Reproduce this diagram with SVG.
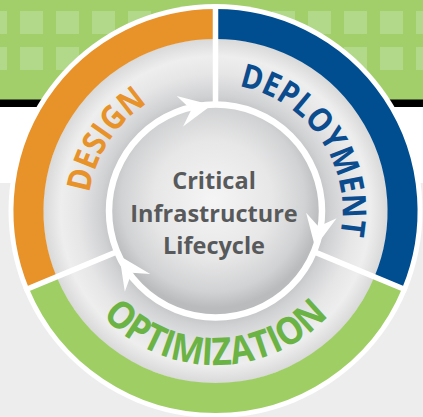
<svg xmlns="http://www.w3.org/2000/svg" xmlns:xlink="http://www.w3.org/1999/xlink" width="423" height="417" viewBox="0 0 423 417">
<style>
.seg{fill:none;stroke-width:30;stroke-linecap:butt}
.div{stroke:#ffffff;stroke-width:5.5;stroke-linecap:butt}
.lbl{font-family:"Open Sans","Noto Sans","Liberation Sans",sans-serif;font-weight:700;text-anchor:middle}
.ctr{font-family:"Open Sans","Noto Sans","Liberation Sans",sans-serif;font-weight:700;font-size:23.5px;fill:#58595b;text-anchor:middle}
</style>
<defs>
<pattern id="sq" x="20" y="11" width="36" height="36" patternUnits="userSpaceOnUse">
<rect x="0" y="0" width="23" height="23" fill="#b2d889"/>
</pattern>
<radialGradient id="ringG" cx="215.5" cy="211" r="172" gradientUnits="userSpaceOnUse">
<stop offset="0.6" stop-color="#bebfc1"/>
<stop offset="0.67" stop-color="#d0d1d3"/>
<stop offset="0.8" stop-color="#e6e6e7"/>
<stop offset="0.9" stop-color="#eeeeee"/>
<stop offset="1" stop-color="#d9d9da"/>
</radialGradient>
<radialGradient id="discG" cx="213" cy="200" r="108" gradientUnits="userSpaceOnUse">
<stop offset="0" stop-color="#f5f5f5"/>
<stop offset="0.55" stop-color="#e7e7e8"/>
<stop offset="0.85" stop-color="#d1d2d3"/>
<stop offset="1" stop-color="#babbbd"/>
</radialGradient>
<path id="arrow" d="M0,0 L-33,-15 L-21,1 L-32,16 Z" fill="#ffffff"/>
<path id="pDesign" d="M96.8,259 A129,129 0 0 1 211,83.1"/>
<path id="pDeploy" d="M217.2,84 A127,127 0 0 1 334.2,256"/>
<path id="pOpt" d="M82.1,288 A154,154 0 0 0 348.9,288"/>
</defs>

<g id="background">
<rect x="0" y="0" width="423" height="417" fill="#ededed"/>
<rect x="0" y="0" width="423" height="100" fill="#a2cf6a"/>
<rect x="0" y="0" width="423" height="75" fill="url(#sq)"/>
<rect x="0" y="99.5" width="423" height="7.5" fill="#000000"/>
<rect x="0" y="107" width="423" height="76" fill="#ffffff"/>
<circle cx="215.5" cy="211" r="207" fill="#ffffff"/>
<circle cx="215.5" cy="211" r="172.5" fill="url(#ringG)"/>
</g>

<g id="node-design">
<path class="seg" stroke="#e8922a" d="M42.7,282.6 A187,187 0 0 1 215.5,24"/>
<text class="lbl" font-size="33" fill="#e8922a"><textPath xlink:href="#pDesign" href="#pDesign" startOffset="50%" textLength="110" lengthAdjust="spacingAndGlyphs">DESIGN</textPath></text>
</g>

<g id="node-deployment">
<path class="seg" stroke="#004e8f" d="M215.5,24 A187,187 0 0 1 388.3,282.6"/>
<text class="lbl" font-size="33" fill="#0a4c8e"><textPath xlink:href="#pDeploy" href="#pDeploy" startOffset="50%" textLength="200" lengthAdjust="spacingAndGlyphs">DEPLOYMENT</textPath></text>
</g>

<g id="node-optimization">
<path class="seg" stroke="#9fce64" d="M388.3,282.6 A187,187 0 0 1 42.7,282.6"/>
<text class="lbl" font-size="38" fill="#6ab344"><textPath xlink:href="#pOpt" href="#pOpt" startOffset="50%" textLength="254" lengthAdjust="spacingAndGlyphs">OPTIMIZATION</textPath></text>
</g>

<g id="dividers">
<line class="div" x1="215.5" y1="108" x2="215.5" y2="4"/>
<line class="div" x1="310.7" y1="250.4" x2="406.7" y2="290.2"/>
<line class="div" x1="120.3" y1="250.4" x2="24.3" y2="290.2"/>
</g>

<g id="node-center">
<circle cx="215.5" cy="211" r="104" fill="url(#discG)"/>
<text class="ctr" x="214" y="189">Critical</text>
<text class="ctr" x="214" y="222">Infrastructure</text>
<text class="ctr" x="214" y="254">Lifecycle</text>
</g>

<g id="connectors">
<circle cx="215.5" cy="211" r="106.5" fill="none" stroke="#ffffff" stroke-width="6.5"/>
<use xlink:href="#arrow" href="#arrow" transform="translate(211.8,105.1) rotate(-10)"/>
<use xlink:href="#arrow" href="#arrow" transform="translate(315.1,247.3) rotate(102)"/>
<use xlink:href="#arrow" href="#arrow" transform="translate(119.4,255.8) rotate(237)"/>
</g>
</svg>
